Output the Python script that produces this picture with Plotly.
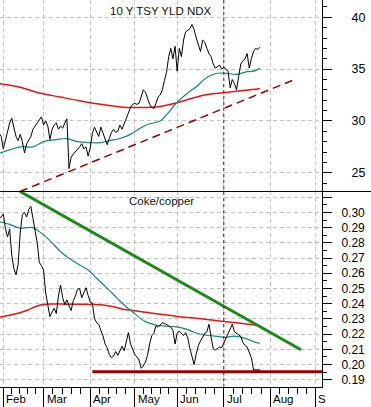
import plotly.graph_objects as go

# ---------------- data (trading-day index 0 = first trading day of Feb 2009) -------------
start_index = -2
yld_ndx = [28.8, 28.5, 27.3, 28.2, 29.0, 29.8, 30.25, 29.2, 28.5, 28.1, 28.7, 28.0,
           26.9, 27.8, 28.2, 28.5, 29.2, 29.5, 29.8, 30.1, 30.4, 29.6, 30.0, 29.5,
           28.2, 29.2, 29.6, 29.8, 29.2, 29.5, 29.3, 29.8, 30.2, 25.4, 26.5, 26.8,
           27.0, 27.3, 27.5, 27.8, 27.3, 27.5, 26.6, 27.4, 28.8, 29.4, 28.9, 28.5,
           29.4, 28.8, 28.2, 27.7, 28.3, 28.9, 29.2, 28.9, 29.0, 29.6, 29.2, 29.7,
           30.3, 30.8, 31.3, 31.6, 31.7, 31.6, 31.7, 32.3, 33.0, 32.8, 32.1, 31.6,
           31.3, 31.2, 31.7, 32.3, 32.5, 33.0, 33.9, 34.7, 36.2, 37.0, 36.0, 37.2,
           34.8, 37.0, 36.2, 37.8, 38.6, 38.8, 38.9, 39.3, 38.8, 38.0, 37.3, 36.7,
           37.8, 37.6, 37.0, 36.5, 36.2, 35.5, 35.1, 35.3, 35.4, 35.0, 35.2, 35.0,
           34.75, 33.2, 34.0, 33.6, 33.0, 34.3, 35.5, 35.8, 36.0, 36.5, 35.1, 36.0,
           36.7, 37.0, 36.9, 37.1]

coke_copper = [0.296, 0.297, 0.299, 0.2895, 0.284, 0.289, 0.272, 0.263, 0.259, 0.266,
               0.287, 0.2985, 0.300, 0.297, 0.302, 0.304, 0.296, 0.289, 0.280, 0.267,
               0.265, 0.262, 0.247, 0.239, 0.2315, 0.2345, 0.237, 0.2335, 0.245, 0.2523,
               0.244, 0.2395, 0.2425, 0.2385, 0.2355, 0.242, 0.245, 0.2495, 0.250, 0.244,
               0.247, 0.2505, 0.2455, 0.241, 0.2405, 0.2305, 0.2275, 0.2265, 0.2225, 0.219,
               0.2135, 0.211, 0.2065, 0.2045, 0.2055, 0.2085, 0.206, 0.2085, 0.212, 0.209,
               0.2155, 0.221, 0.2135, 0.2095, 0.2065, 0.205, 0.203, 0.1975, 0.199, 0.2015,
               0.206, 0.2135, 0.219, 0.2205, 0.2255, 0.2245, 0.226, 0.2275, 0.227, 0.2265,
               0.2255, 0.2245, 0.2225, 0.2135, 0.2205, 0.222, 0.2205, 0.219, 0.221, 0.2175,
               0.2105, 0.205, 0.200, 0.207, 0.2125, 0.2155, 0.218, 0.2205, 0.2215, 0.2265,
               0.218, 0.2105, 0.2095, 0.2105, 0.2115, 0.211, 0.214, 0.2175, 0.2205, 0.2235,
               0.2265, 0.2215, 0.2205, 0.2195, 0.2185, 0.2145, 0.2125, 0.2115, 0.2085, 0.2045,
               0.1965, 0.1965, 0.1962, 0.1965]

yld_ma_short_x = [-2, 3, 8, 14, 19, 25, 30, 35, 41, 46, 50, 55, 60, 63, 68, 74, 77, 82,
                  87, 91, 96, 101, 105, 110, 115, 119, 121]
yld_ma_short = [26.85, 27.2, 27.5, 27.5, 28.0, 28.2, 28.3, 28.0, 27.9, 27.9, 28.1, 28.3,
                28.7, 29.1, 29.65, 30.0, 30.6, 31.8, 32.7, 33.3, 34.2, 34.6, 34.6, 34.5,
                34.75, 34.85, 35.1]

yld_ma_long_x = [-2, 8, 17, 27, 36, 46, 55, 64, 74, 81, 86, 95, 105, 112, 121]
yld_ma_long = [33.6, 33.25, 32.7, 32.3, 31.95, 31.6, 31.35, 31.3, 31.4, 31.7, 32.0,
               32.5, 32.75, 32.9, 33.1]

cc_ma_short_x = [-2, 3, 8, 11, 14, 17, 20, 24, 27, 31, 36, 40, 44, 49, 53, 57, 61, 67,
                 72, 76, 81, 86, 90, 95, 100, 105, 109, 114, 119, 121]
cc_ma_short = [0.294, 0.2922, 0.2896, 0.290, 0.290, 0.2874, 0.2841, 0.2786, 0.2742,
               0.2699, 0.2655, 0.2622, 0.2567, 0.2501, 0.2446, 0.2391, 0.2345, 0.2282,
               0.226, 0.2253, 0.2249, 0.2234, 0.2212, 0.2194, 0.2187, 0.2179, 0.2187,
               0.2172, 0.2146, 0.214]

cc_ma_long_x = [-2, 5, 11, 16, 19, 23, 30, 36, 42, 47, 52, 56, 61, 73, 82, 92, 101, 111, 119, 121]
cc_ma_long = [0.231, 0.233, 0.2355, 0.2385, 0.2395, 0.2398, 0.2397, 0.2396, 0.2395, 0.2392,
              0.238, 0.2365, 0.2355, 0.2332, 0.2316, 0.2303, 0.2288, 0.2273, 0.2258, 0.2255]

yld_trend_x = [7.9, 138.0]
yld_trend_y = [23.19, 34.05]
cc_trend_x = [7.9, 140.4]
cc_trend_y = [0.3138, 0.2097]
cc_support_x = [42, 152]
cc_support_y = [0.1953, 0.1953]
marker_day = 104

month_ticks = [0, 19, 41, 62, 82, 104, 126, 147]
month_labels = ["Feb", "Mar", "Apr", "May", "Jun", "Jul", "Aug", "S"]
yld_ticks = [25, 30, 35, 40]
yld_tick_labels = ["25", "30", "35", "40"]
cc_ticks = [0.19, 0.20, 0.21, 0.22, 0.23, 0.24, 0.25, 0.26, 0.27, 0.28, 0.29, 0.30, 0.31]
cc_tick_labels = ["0.19", "0.20", "0.21", "0.22", "0.23", "0.24", "0.25", "0.26",
                  "0.27", "0.28", "0.29", "0.30", ""]

# ---------------- figure ----------------
days = list(range(start_index, start_index + len(yld_ndx)))
FONT = "Liberation Sans, Arial, sans-serif"
GRID = "#c4c4c4"
TEAL = "#13877a"
RED = "#f01010"
DARKRED = "#980000"
GREEN = "#1a8a1a"

fig = go.Figure()
# top panel
fig.add_trace(go.Scatter(x=yld_ma_long_x, y=yld_ma_long, mode="lines",
                         line=dict(color=RED, width=1.5, shape="spline"), xaxis="x", yaxis="y"))
fig.add_trace(go.Scatter(x=yld_ma_short_x, y=yld_ma_short, mode="lines",
                         line=dict(color=TEAL, width=1.2, shape="spline"), xaxis="x", yaxis="y"))
fig.add_trace(go.Scatter(x=yld_trend_x, y=yld_trend_y, mode="lines",
                         line=dict(color=DARKRED, width=1.5, dash="8px,5px"), xaxis="x", yaxis="y"))
fig.add_trace(go.Scatter(x=days, y=yld_ndx, mode="lines",
                         line=dict(color="black", width=1), xaxis="x", yaxis="y"))
# bottom panel
fig.add_trace(go.Scatter(x=cc_ma_long_x, y=cc_ma_long, mode="lines",
                         line=dict(color=RED, width=1.5, shape="spline"), xaxis="x2", yaxis="y2"))
fig.add_trace(go.Scatter(x=cc_ma_short_x, y=cc_ma_short, mode="lines",
                         line=dict(color=TEAL, width=1.2, shape="spline"), xaxis="x2", yaxis="y2"))
fig.add_trace(go.Scatter(x=cc_trend_x, y=cc_trend_y, mode="lines",
                         line=dict(color=GREEN, width=3), xaxis="x2", yaxis="y2"))
fig.add_trace(go.Scatter(x=cc_support_x, y=cc_support_y, mode="lines",
                         line=dict(color=DARKRED, width=3), xaxis="x2", yaxis="y2"))
fig.add_trace(go.Scatter(x=days, y=coke_copper, mode="lines",
                         line=dict(color="black", width=1), xaxis="x2", yaxis="y2"))

xrange = [-1.557, 150.3]
minor_x = []
for a, b in zip(month_ticks[:-1], month_ticks[1:]):
    for k in range(1, 5):
        minor_x.append(a + (b - a) * k / 5)
minor_x.append(month_ticks[-1] + 4.2)

split = 0.5052
common_x = dict(range=xrange, tickmode="array", tickvals=month_ticks,
                showgrid=True, gridcolor=GRID, griddash="4px,3px", gridwidth=1,
                zeroline=False, showticklabels=False)
fig.update_layout(
    width=371, height=407,
    margin=dict(l=0, r=49, t=0, b=20),
    paper_bgcolor="white", plot_bgcolor="white",
    showlegend=False,
    font=dict(family=FONT, size=12, color="black"),
    xaxis=dict(**common_x, anchor="y", matches="x2", ticks="", showline=False),
    xaxis2=dict(**common_x, anchor="y2", ticks="outside", ticklen=20, tickwidth=1,
                tickcolor="black", showline=True, linecolor="black", linewidth=1,
                minor=dict(tickmode="array", tickvals=minor_x, ticks="outside",
                           ticklen=6, tickcolor="black", showgrid=False)),
    yaxis=dict(domain=[split, 1], range=[23.19, 41.67], side="right", anchor="x",
               tickmode="array", tickvals=yld_ticks, ticktext=yld_tick_labels,
               ticks="outside", ticklen=9,
               tickcolor="black", showline=True, linecolor="black", linewidth=1,
               showgrid=True, gridcolor=GRID, griddash="4px,3px", zeroline=False,
               ticklabelstandoff=17, tickfont=dict(size=12.5),
               minor=dict(dtick=1, tick0=0, ticks="outside", ticklen=4,
                          tickcolor="black", showgrid=False)),
    yaxis2=dict(domain=[0, split], range=[0.1852, 0.3138], side="right", anchor="x2",
                tickmode="array", tickvals=cc_ticks, ticktext=cc_tick_labels,
                ticks="outside", ticklen=9,
                tickcolor="black", showline=True, linecolor="black", linewidth=1,
                showgrid=True, gridcolor=GRID, griddash="4px,3px", zeroline=False,
                ticklabelstandoff=7, tickfont=dict(size=12),
                minor=dict(dtick=0.005, tick0=0.185, ticks="outside", ticklen=4,
                           tickcolor="black", showgrid=False)),
)

# panel divider across the full width
fig.add_shape(type="line", xref="paper", yref="paper", x0=0, x1=371 / 322,
              y0=split, y1=split, line=dict(color="black", width=1))
# dotted marker line through both panels
fig.add_shape(type="line", xref="x2", yref="paper", x0=marker_day, x1=marker_day,
              y0=0, y1=1, line=dict(color=DARKRED, width=1, dash="3px,3px"))

fig.add_annotation(text="10 Y TSY YLD NDX", x=0.5, y=1 - 11 / 387, xref="paper", yref="paper",
                   showarrow=False, font=dict(size=11.5, color="#111"), yanchor="middle")
fig.add_annotation(text="Coke/copper", x=0.5, y=1 - 200.5 / 387, xref="paper", yref="paper",
                   showarrow=False, font=dict(size=11.5, color="#111"), yanchor="middle")

for m, lab in zip(month_ticks, month_labels):
    fig.add_annotation(text=lab, x=m, xref="x2", y=0, yref="paper", xanchor="left",
                       yanchor="top", xshift=1, yshift=-4, showarrow=False,
                       font=dict(size=11.5, color="black"))

fig.write_html("out.html", config={"displayModeBar": False},
               post_script="document.body.style.margin='0';document.body.style.padding='0';")
